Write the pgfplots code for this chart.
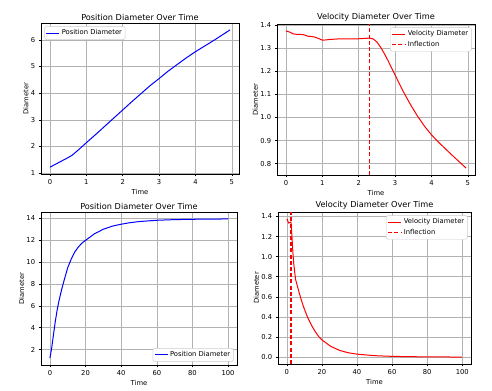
\documentclass[border=0pt]{standalone}
\usepackage{fontspec}
\setmainfont{DejaVu Sans}
\usepackage{pgfplots}
\pgfplotsset{compat=1.18}
\definecolor{infred}{rgb}{0.99,0,0}

\pgfplotsset{
  mpl/.style={
    scale only axis,
    axis line style={black, line width=0.55bp},
    grid=major,
    major grid style={color=black!30, line width=0.5bp},
    tick align=outside,
    major tick length=2.4bp,
    tick style={black, line width=0.55bp},
    tick pos=left,
    ticklabel style={font=\fontsize{6.8}{7}\selectfont},
    label style={font=\fontsize{6.8}{7}\selectfont},
    title style={font=\fontsize{8.2}{9}\selectfont, yshift=-7bp},
    xlabel style={yshift=3bp},
    ylabel style={yshift=-4.5bp},
    /pgf/number format/assume math mode=true,
    legend style={font=\fontsize{6.8}{8}\selectfont, draw=black!20, rounded corners=1.5bp,
      fill=white, inner sep=1.2bp},
    legend cell align=left,
    legend image code/.code={\draw[#1] (0bp,0bp) -- (13bp,0bp);},
  },
  posline/.style={draw=blue, line width=1bp},
  velline/.style={draw=red, line width=1bp},
  infline/.style={draw=infred, line width=1.4bp, dash pattern=on 4bp off 2.2bp},
}

\pgfplotstableread{
t v
0 1.375
0.1 1.370
0.2 1.362
0.3 1.360
0.4 1.360
0.5 1.358
0.6 1.352
0.7 1.351
0.8 1.348
0.9 1.342
1.0 1.335
1.1 1.336
1.2 1.338
1.4 1.340
1.6 1.341
1.8 1.341
2.0 1.341
2.2 1.343
2.3 1.344
2.4 1.340
2.5 1.327
2.6 1.305
2.7 1.278
2.8 1.248
2.9 1.216
3.0 1.184
3.2 1.120
3.4 1.062
3.6 1.010
3.8 0.964
4.0 0.925
4.2 0.892
4.4 0.862
4.6 0.832
4.8 0.803
4.95 0.781
}\velshort

\pgfplotstableread{
t v
0 1.375
0.5 1.358
1.0 1.335
2.0 1.341
2.3 1.344
2.5 1.327
3.0 1.184
3.5 1.036
4.0 0.925
4.5 0.847
5 0.775
6 0.71
7 0.645
8 0.585
9 0.53
10 0.48
12 0.39
14 0.32
16 0.26
18 0.21
20 0.172
25 0.108
30 0.068
35 0.044
40 0.030
50 0.015
60 0.008
70 0.005
80 0.003
90 0.002
100 0.001
}\vellong

\pgfplotstableread{
t p
0 1.22
0.25 1.40
0.5 1.58
0.6 1.66
0.8 1.89
1.0 2.14
1.25 2.44
1.5 2.75
1.75 3.06
2.0 3.37
2.25 3.68
2.5 3.98
2.75 4.28
3.0 4.55
3.25 4.83
3.5 5.08
3.75 5.33
4.0 5.56
4.25 5.77
4.5 5.98
4.75 6.20
4.95 6.38
}\posshort

\pgfplotstableread{
t p
0 1.22
1 2.14
2 3.37
3 4.55
4 5.56
5 6.40
6 7.10
7 7.75
8 8.35
10 9.50
12 10.30
14 10.95
16 11.40
18 11.75
20 12.00
25 12.60
30 13.02
35 13.30
40 13.48
45 13.62
50 13.72
60 13.84
70 13.90
80 13.93
90 13.95
100 13.96
}\poslong

\pgfplotstableread{
t v
2.3 0.751
2.3 1.405
}\infshort

\begin{document}
\begin{tikzpicture}[x=1bp,y=1bp]
\path (0,0) rectangle (492,390);

% top left
\begin{axis}[mpl, at={(41bp,216bp)}, anchor=south west,
  width=198bp, height=151bp,
  xmin=-0.2475, xmax=5.1975, ymin=0.962, ymax=6.638,
  xtick={0,1,2,3,4,5}, ytick={1,2,3,4,5,6},
  title={Position Diameter Over Time}, xlabel={Time}, ylabel={Diameter},
  legend entries={Position Diameter},
  legend image code/.code={\draw[blue, line width=1bp] (0bp,0bp) -- (13bp,0bp);},
  legend style={at={(0,1)}, anchor=north west, xshift=3.4bp, yshift=-3.4bp}]
\addplot[posline] table[x=t, y=p] {\posshort};
\end{axis}

% top right
\begin{axis}[mpl, at={(277bp,215bp)}, anchor=south west,
  width=198bp, height=151bp,
  xmin=-0.2475, xmax=5.1975, ymin=0.751, ymax=1.405,
  xtick={0,1,2,3,4,5}, ytick={0.8,0.9,1.0,1.1,1.2,1.3,1.4},
  yticklabel style={/pgf/number format/.cd, fixed, fixed zerofill, precision=1},
  title={Velocity Diameter Over Time}, xlabel={Time}, ylabel={Diameter},
  reverse legend,
  legend entries={Inflection, Velocity Diameter},
  legend style={at={(1,1)}, anchor=north east, xshift=-3.4bp, yshift=-3.4bp}]
\addplot[infline] table[x=t, y=v] {\infshort};
\addplot[velline] table[x=t, y=v] {\velshort};
\end{axis}

% bottom left
\begin{axis}[mpl, at={(41bp,25bp)}, anchor=south west,
  width=196bp, height=153bp,
  xmin=-5, xmax=105, ymin=0.583, ymax=14.597,
  xtick={0,20,40,60,80,100}, ytick={2,4,6,8,10,12,14},
  title={Position Diameter Over Time}, xlabel={Time}, ylabel={Diameter},
  legend entries={Position Diameter},
  legend style={at={(1,0)}, anchor=south east, xshift=-3.4bp, yshift=3.4bp}]
\addplot[posline] table[x=t, y=p] {\poslong};
\end{axis}

% bottom right
\begin{axis}[mpl, at={(278bp,26bp)}, anchor=south west,
  width=193bp, height=152bp,
  xmin=-5, xmax=105, ymin=-0.068, ymax=1.444,
  xtick={0,20,40,60,80,100}, ytick={0,0.2,0.4,0.6,0.8,1.0,1.2,1.4},
  yticklabel style={/pgf/number format/.cd, fixed, fixed zerofill, precision=1},
  title={Velocity Diameter Over Time}, xlabel={Time}, ylabel={Diameter},
  legend entries={Velocity Diameter, Inflection},
  legend style={at={(1,1)}, anchor=north east, xshift=-3.4bp, yshift=-3.4bp}]
\addplot[velline] table[x=t, y=v] {\vellong};
\addplot[infline] coordinates {(2.3,-0.068) (2.3,1.444)};
\end{axis}
\end{tikzpicture}
\end{document}
